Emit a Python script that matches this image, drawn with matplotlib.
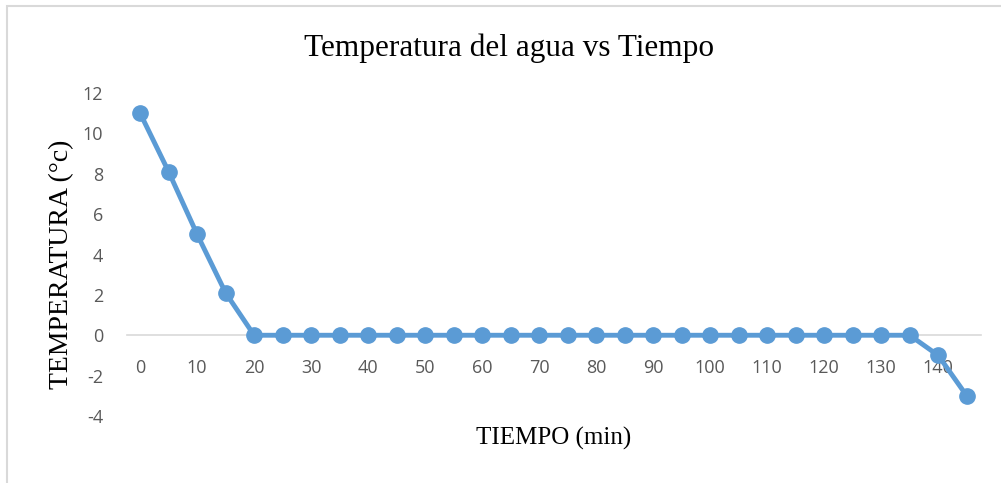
import matplotlib
matplotlib.use("Agg")
import matplotlib.pyplot as plt
from matplotlib.patches import Rectangle

plt.rcParams["axes.unicode_minus"] = False

# datos
tiempo = [0, 5, 10, 15, 20, 25, 30, 35, 40, 45, 50, 55, 60, 65, 70, 75,
          80, 85, 90, 95, 100, 105, 110, 115, 120, 125, 130, 135, 140, 145]
temperatura = [11, 8.1, 5, 2.1, 0, 0, 0, 0, 0, 0, 0, 0, 0, 0, 0, 0,
               0, 0, 0, 0, 0, 0, 0, 0, 0, 0, 0, 0, -1, -3]
xticks = list(range(0, 141, 10))
yticks = [-4, -2, 0, 2, 4, 6, 8, 10, 12]

W, H = 1001, 483
fig = plt.figure(figsize=(W / 100, H / 100), dpi=100)

# borde gris del área del gráfico (cortado a la derecha y abajo)
fig.patches.append(Rectangle((6.5 / W, -0.1), 1.1, (H - 5.5) / H + 0.1,
                             transform=fig.transFigure, fill=False,
                             edgecolor="#D9D9D9", linewidth=1.5))

ax = fig.add_axes([127 / W, (H - 416) / H, (981 - 127) / W, (416 - 93) / H])

ax.plot(tiempo, temperatura, color="#5B9BD5", linewidth=3.5, marker="o",
        markersize=11, zorder=3, solid_capstyle="round")

ax.set_xlim(-2.3, 147.5)
ax.set_ylim(-4, 12)
ax.set_xticks(xticks)
ax.set_yticks(yticks)

# el eje x cruza en y=0, con sus etiquetas justo debajo
for s in ax.spines.values():
    s.set_visible(False)
ax.spines["bottom"].set_visible(True)
ax.spines["bottom"].set_position(("data", 0))
ax.spines["bottom"].set_color("#D9D9D9")
ax.spines["bottom"].set_linewidth(1.2)
ax.spines["bottom"].set_zorder(1)

ax.tick_params(axis="both", length=0, labelcolor="#595959", labelsize=13)
ax.tick_params(axis="x", pad=17)
ax.tick_params(axis="y", pad=17)
for lbl in ax.get_xticklabels() + ax.get_yticklabels():
    lbl.set_fontfamily("Open Sans")

fig.text(509 / W, 1 - 48 / H, "Temperatura del agua vs Tiempo",
         family="Liberation Serif", fontsize=22.5, ha="center", va="center",
         color="#000000")
fig.text(554 / W, 1 - 438 / H, "TIEMPO (min)", family="Liberation Serif",
         fontsize=18, ha="center", va="center")
fig.text(62 / W, 1 - 264 / H, "TEMPERATURA (°c)", family="Liberation Serif",
         fontsize=20, ha="center", va="center", rotation=90)

fig.savefig("out.png", dpi=100)
